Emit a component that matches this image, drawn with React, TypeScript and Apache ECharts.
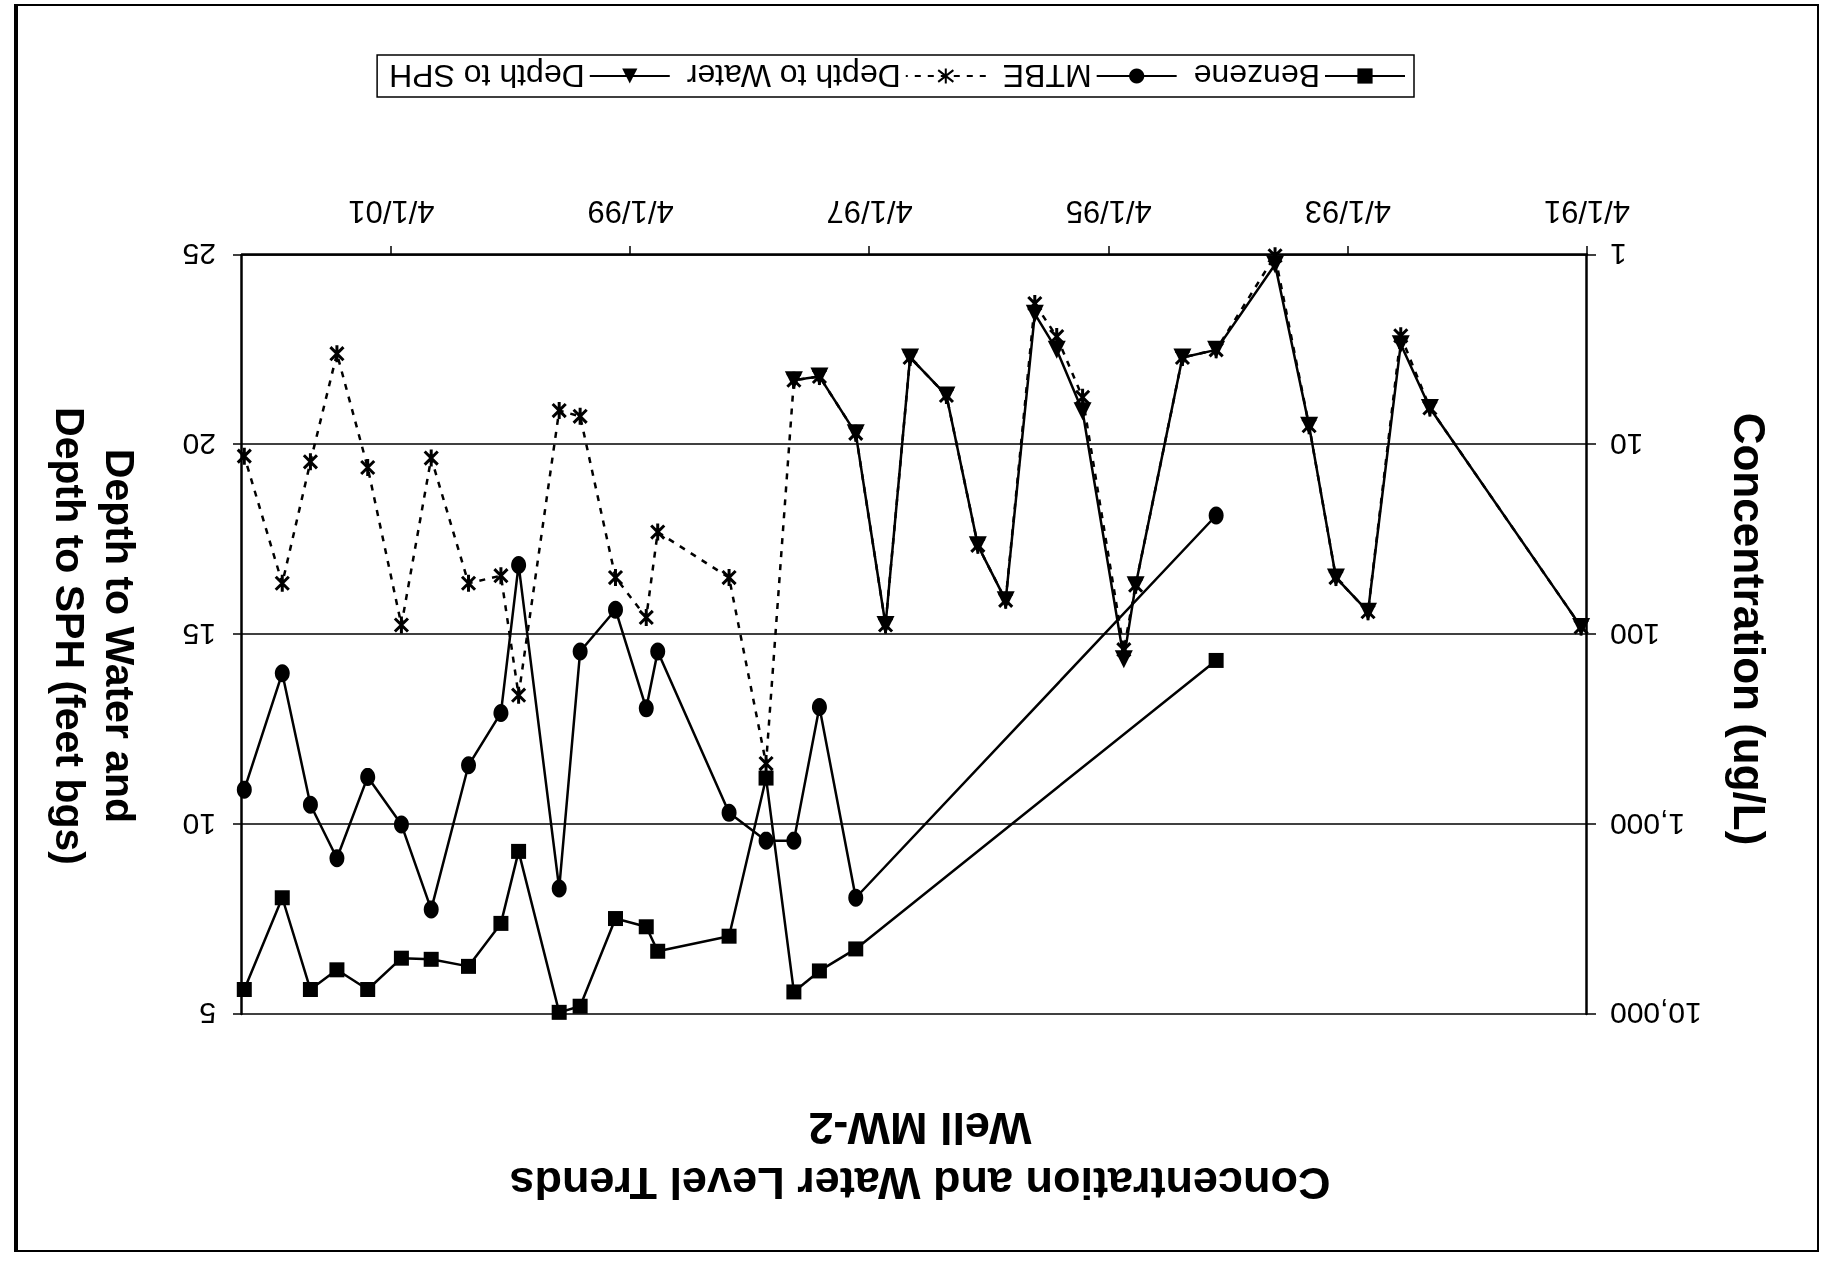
import React, { useEffect, useRef } from 'react';
import * as echarts from 'echarts';

// Sampling events (M/D/YY dates)
const sampleDates = [
  '1991-04-19', '1992-07-24', '1992-10-21', '1993-01-29', '1993-05-07', '1993-07-28',
  '1993-11-09', '1994-05-08', '1994-08-19', '1995-01-09', '1995-02-14', '1995-06-20',
  '1995-09-07', '1995-11-13', '1996-02-10', '1996-05-05', '1996-08-09', '1996-11-28',
  '1997-02-11', '1997-05-13', '1997-09-01', '1997-11-18', '1998-02-11', '1998-06-04',
  '1999-01-08', '1999-02-12', '1999-05-17', '1999-09-02', '1999-11-05', '2000-03-08',
  '2000-05-01', '2000-08-08', '2000-11-30', '2001-03-01', '2001-06-12', '2001-09-14',
  '2001-12-04', '2002-02-28', '2002-06-24',
];

// Concentrations (ug/L)
const benzene = [
  null, null, null, null, null, null, null, 137, null, null, null, null,
  null, null, null, null, null, null, null, 4540, 5930, 7650, 571, 3890,
  4670, 3470, 3140, 9100, 9800, 1390, 3330, 5610, 5150, 5080, 7430, 5850,
  7430, 2440, 7430,
];
const mtbe = [
  null, null, null, null, null, null, null, 23.6, null, null, null, null,
  null, null, null, null, null, null, null, 2440, 241, 1220, 1220, 871,
  123, 245, 74, 123, 2180, 43, 259, 489, 2810, 1004, 563, 1510,
  789, 160, 657,
];

// Depths (feet bgs)
const depthToWater = [
  15.2, 20.97, 22.87, 15.6, 16.5, 20.5, 24.98, 22.5, 22.3, 16.3, 14.6, 21.25,
  22.85, 23.72, 15.9, 17.35, 21.3, 22.3, 15.25, 20.3, 21.8, 21.7, 11.6, 16.5,
  17.7, 15.45, 16.5, 20.75, 20.9, 13.4, 16.55, 16.35, 19.65, 15.25, 19.4, 22.4,
  19.55, 16.35, 19.7,
];
const depthToSPH = [
  15.2, 20.97, 22.65, 15.6, 16.5, 20.5, 24.75, 22.5, 22.3, 16.3, 14.35, 20.88,
  22.5, 23.45, 15.9, 17.35, 21.3, 22.3, 15.25, 20.3, 21.8, 21.7, null, null,
  null, null, null, null, null, null, null, null, null, null, null, null,
  null, null, null,
];

const axisStartDate = '1991-04-01';
const axisEndDate = '2002-07-01';
const dateTickYears = [0, 2, 4, 6, 8, 10]; // 4/1/91 ... 4/1/01

const FONT = '"Liberation Sans", Arial, Helvetica, sans-serif';

const toYears = (d: string) =>
  (Date.parse(d) - Date.parse(axisStartDate)) / (365.25 * 86400000);

const pairs = (vals: (number | null)[]) =>
  sampleDates
    .map((d, i) => (vals[i] == null ? null : [toYears(d), vals[i] as number]))
    .filter((p) => p !== null) as number[][];

const ASTERISK = 'path://M0,0L10,10M10,0L0,10M5,-1.5L5,11.5';

export default function App() {
  const ref = useRef<HTMLDivElement>(null);

  useEffect(() => {
    if (!ref.current) return;
    const chart = echarts.init(ref.current, null, { renderer: 'svg' });

    const black = '#000';
    const option: any = {
      animation: false,
      backgroundColor: '#fff',
      grid: { left: 236, top: 248, width: 1345, height: 759, containLabel: false, outerBoundsMode: 'none' },
      legend: {
        left: 409,
        top: 1165,
        orient: 'horizontal',
        itemWidth: 80,
        itemHeight: 19,
        itemGap: 16,
        padding: [5, 12, 5, 8],
        borderColor: black,
        borderWidth: 1.5,
        backgroundColor: '#fff',
        textStyle: { fontSize: 32, color: black, fontFamily: FONT },
        data: ['Benzene', 'MTBE', 'Depth to Water', 'Depth to SPH'],
      },
      xAxis: {
        type: 'value',
        min: 0,
        max: toYears(axisEndDate),
        position: 'bottom',
        axisLine: { show: true, onZero: false, lineStyle: { color: black, width: 2.5 } },
        axisTick: {
          show: true,
          inside: false,
          length: 9,
          customValues: dateTickYears,
          lineStyle: { color: black, width: 1.5 },
        },
        axisLabel: {
          customValues: dateTickYears,
          margin: 28,
          fontSize: 31,
          color: black,
          fontFamily: FONT,
          formatter: (v: number) =>
            '4/1/' + String((91 + Math.round(v)) % 100).padStart(2, '0'),
        },
        splitLine: { show: false },
      },
      yAxis: [
        {
          type: 'log',
          logBase: 10,
          min: 1,
          max: 10000,
          position: 'left',
          axisLine: { show: true, lineStyle: { color: black, width: 2.5 } },
          axisTick: { show: true, inside: false, length: 9, lineStyle: { color: black, width: 1.5 } },
          axisLabel: {
            margin: 23,
            fontSize: 30,
            color: black,
            fontFamily: FONT,
            formatter: (v: number) => Number(v).toLocaleString('en-US'),
          },
          splitLine: { show: true, lineStyle: { color: black, width: 1.5 } },
          minorTick: { show: false },
        },
        {
          type: 'value',
          min: 5,
          max: 25,
          interval: 5,
          inverse: true,
          position: 'right',
          axisLine: { show: true, lineStyle: { color: black, width: 2.5 } },
          axisTick: { show: true, inside: false, length: 9, lineStyle: { color: black, width: 1.5 } },
          axisLabel: { margin: 26, fontSize: 30, color: black, fontFamily: FONT },
          splitLine: { show: false },
        },
      ],
      series: [
        {
          name: 'Benzene',
          type: 'line',
          yAxisIndex: 0,
          data: pairs(benzene),
          symbol: 'rect',
          symbolSize: 15,
          clip: false,
          lineStyle: { color: black, width: 2.5 },
          itemStyle: { color: black },
        },
        {
          name: 'MTBE',
          type: 'line',
          yAxisIndex: 0,
          data: pairs(mtbe),
          symbol: 'circle',
          symbolSize: [15, 18],
          clip: false,
          lineStyle: { color: black, width: 2.5 },
          itemStyle: { color: black },
        },
        {
          name: 'Depth to Water',
          type: 'line',
          yAxisIndex: 1,
          data: pairs(depthToWater),
          symbol: ASTERISK,
          symbolSize: 17,
          symbolKeepAspect: true,
          clip: false,
          lineStyle: { color: black, width: 2.5, type: [6, 7] },
          itemStyle: { color: black, borderColor: black, borderWidth: 3 },
        },
        {
          name: 'Depth to SPH',
          type: 'line',
          yAxisIndex: 1,
          data: pairs(depthToSPH),
          symbol: 'triangle',
          symbolSize: 18,
          clip: false,
          lineStyle: { color: black, width: 2.5 },
          itemStyle: { color: black },
        },
      ],
      graphic: [
        {
          type: 'rect',
          silent: true,
          shape: { x: 5, y: 11, width: 1803, height: 1246 },
          style: { fill: 'none', stroke: black, lineWidth: 2 },
        },
        {
          type: 'line',
          silent: true,
          shape: { x1: 1807, y1: 11, x2: 1807, y2: 1257 },
          style: { stroke: black, lineWidth: 4 },
        },
        {
          type: 'text',
          x: 903,
          y: 106,
          silent: true,
          style: {
            text: 'Concentration and Water Level Trends\nWell MW-2',
            fontSize: 45,
            fontWeight: 'bold',
            fontFamily: FONT,
            fill: black,
            align: 'center',
            verticalAlign: 'middle',
            lineHeight: 55,
          },
        },
        {
          type: 'text',
          x: 73,
          y: 633,
          rotation: Math.PI / 2,
          silent: true,
          style: {
            text: 'Concentration (ug/L)',
            fontSize: 44,
            fontWeight: 'bold',
            fontFamily: FONT,
            fill: black,
            align: 'center',
            verticalAlign: 'middle',
          },
        },
        {
          type: 'text',
          x: 1728,
          y: 626,
          rotation: Math.PI / 2,
          silent: true,
          style: {
            text: 'Depth to Water and\nDepth to SPH (feet bgs)',
            fontSize: 41,
            fontWeight: 'bold',
            fontFamily: FONT,
            fill: black,
            align: 'center',
            verticalAlign: 'middle',
            lineHeight: 50,
          },
        },
      ],
    };

    chart.setOption(option);
    return () => chart.dispose();
  }, []);

  return (
    <div
      ref={ref}
      style={{
        position: 'fixed',
        left: 0,
        top: 0,
        width: 1823,
        height: 1262,
        transform: 'rotate(180deg)',
        background: '#fff',
      }}
    />
  );
}
